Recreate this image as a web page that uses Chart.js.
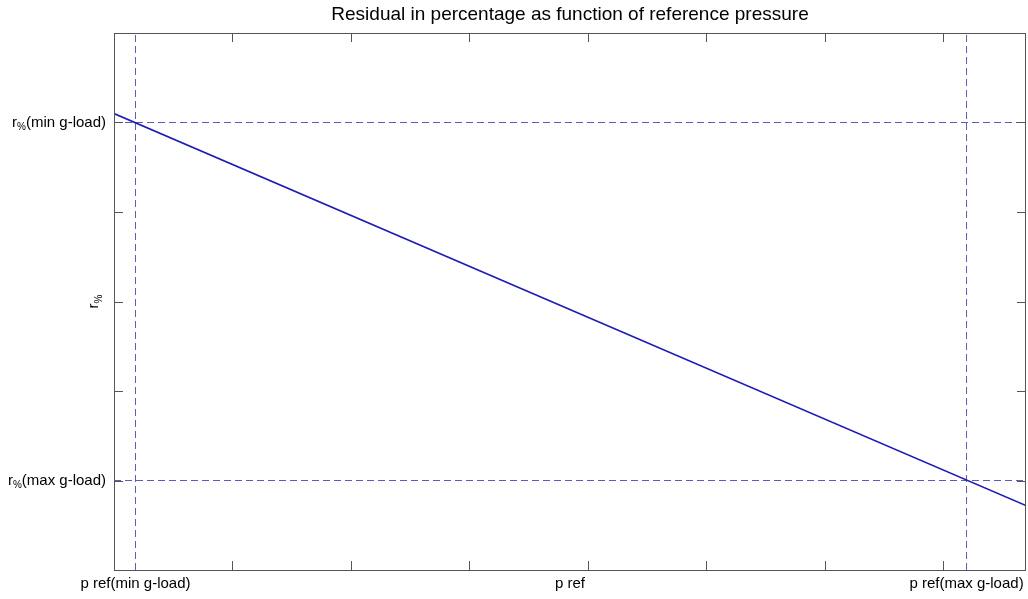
<!DOCTYPE html>
<html>
<head>
<meta charset="utf-8">
<script src="https://cdn.jsdelivr.net/npm/chart.js@4.4.1/dist/chart.umd.min.js"></script>
<style>
html,body{margin:0;padding:0;background:#fff;}
#wrap{width:1028px;height:599px;position:relative;}
</style>
</head>
<body>
<div id="wrap"><canvas id="c" width="1028" height="599"></canvas></div>
<script>
// ---- data ----
const pRef = [0, 7.7];                 // reference pressure (axis units)
const rPct = [5.1, 0.72];              // residual in percentage
const pRefMinG = 0.1815;               // p ref at min g-load
const pRefMaxG = 7.198;                // p ref at max g-load
const rMinG = 5;                       // r% at min g-load
const rMaxG = 1;                       // r% at max g-load
const xRange = [0, 7.7];
const yRange = [0, 6];
const xTickValues = [1, 2, 3, 4, 5, 6, 7];
const yTickValues = [1, 2, 3, 4, 5];
const xLabels = [[pRefMinG, 'p ref(min g-load)'], [pRefMaxG, 'p ref(max g-load)']];
const yLabels = [[rMinG, 'min g-load'], [rMaxG, 'max g-load']];
const xTitle = 'p ref';
const titleText = 'Residual in percentage as function of reference pressure';

const FONT = '"Liberation Sans", Arial, Helvetica, sans-serif';
const AX = '#555555';
const DASH = '#5c5cbc';

const mainPts = pRef.map((x, i) => ({x, y: rPct[i]}));
const hMin = xRange.map(x => ({x, y: rMinG}));
const hMax = xRange.map(x => ({x, y: rMaxG}));
const vMin = yRange.map(y => ({x: pRefMinG, y}));
const vMax = yRange.map(y => ({x: pRefMaxG, y}));

const dashed = (data) => ({data, borderColor: DASH, borderWidth: 1, borderDash: [7, 4], pointRadius: 0, fill: false});

const decor = {
  id: 'decor',
  afterDatasetsDraw(chart) {
    const {ctx, chartArea: a, scales: {x, y}} = chart;
    ctx.save();
    ctx.strokeStyle = AX;
    ctx.lineWidth = 1;
    ctx.strokeRect(Math.round(a.left) + 0.5, Math.round(a.top) + 0.5,
                   Math.round(a.right - a.left) - 1, Math.round(a.bottom - a.top));
    const L = 9;
    ctx.beginPath();
    xTickValues.forEach(v => {
      const px = Math.round(x.getPixelForValue(v)) + 0.5;
      ctx.moveTo(px, a.top); ctx.lineTo(px, a.top + L);
      ctx.moveTo(px, a.bottom); ctx.lineTo(px, a.bottom - L);
    });
    yTickValues.forEach(v => {
      const py = Math.round(y.getPixelForValue(v)) + 0.5;
      ctx.moveTo(a.left, py); ctx.lineTo(a.left + L, py);
      ctx.moveTo(a.right, py); ctx.lineTo(a.right - L, py);
    });
    ctx.stroke();
    ctx.restore();
  },
  afterDraw(chart) {
    const {ctx, chartArea: a, scales: {x, y}} = chart;
    ctx.save();
    ctx.fillStyle = '#000';
    ctx.font = '15px ' + FONT;
    ctx.textBaseline = 'middle';
    ctx.textAlign = 'center';
    const ly = a.bottom + 14;
    xLabels.forEach(([v, t]) => ctx.fillText(t, x.getPixelForValue(v), ly));
    ctx.fillText(xTitle, (a.left + a.right) / 2, ly);
    // y labels: r_% (...)
    yLabels.forEach(([v, t]) => {
      const py = y.getPixelForValue(v);
      const right = a.left - 8;
      ctx.font = '15px ' + FONT;
      const rest = '(' + t + ')';
      const wRest = ctx.measureText(rest).width;
      const wR = ctx.measureText('r').width;
      ctx.font = '10px ' + FONT;
      const wP = ctx.measureText('%').width;
      let xs = right - wRest - wP - wR;
      ctx.textAlign = 'left';
      ctx.font = '15px ' + FONT;
      ctx.fillText('r', xs, py);
      ctx.font = '10px ' + FONT;
      ctx.fillText('%', xs + wR, py + 5);
      ctx.font = '15px ' + FONT;
      ctx.fillText(rest, xs + wR + wP, py);
    });
    // rotated y title r_%
    ctx.translate(a.left - 20, (a.top + a.bottom) / 2);
    ctx.rotate(-Math.PI / 2);
    ctx.font = '15px ' + FONT;
    const wr = ctx.measureText('r').width;
    ctx.font = '10px ' + FONT;
    const wp = ctx.measureText('%').width;
    const x0 = -(wr + wp) / 2;
    ctx.textAlign = 'left';
    ctx.font = '15px ' + FONT;
    ctx.fillText('r', x0, 0);
    ctx.font = '10px ' + FONT;
    ctx.fillText('%', x0 + wr, 5);
    ctx.restore();
  }
};

new Chart(document.getElementById('c'), {
  type: 'line',
  data: {
    datasets: [
      {data: mainPts, borderColor: '#1c1cb4', borderWidth: 1.6, pointRadius: 0, fill: false},
      dashed(hMin), dashed(hMax), dashed(vMin), dashed(vMax)
    ]
  },
  options: {
    responsive: false,
    animation: false,
    events: [],
    layout: {padding: {left: 0, right: 2, top: 0, bottom: 0}},
    plugins: {
      legend: {display: false},
      tooltip: {enabled: false},
      title: {
        display: true, text: titleText, fullSize: false, color: '#000',
        font: {family: FONT, size: 19, weight: 'normal', lineHeight: 1.2},
        padding: {top: 3, bottom: 7.2}
      }
    },
    scales: {
      x: {
        type: 'linear', min: xRange[0], max: xRange[1],
        grid: {display: false}, border: {display: false},
        ticks: {display: false},
        afterFit(s) { s.height = 29; }
      },
      y: {
        type: 'linear', min: yRange[0], max: yRange[1],
        grid: {display: false}, border: {display: false},
        ticks: {display: false},
        afterFit(s) { s.width = 114; }
      }
    }
  },
  plugins: [decor]
});
</script>
</body>
</html>
